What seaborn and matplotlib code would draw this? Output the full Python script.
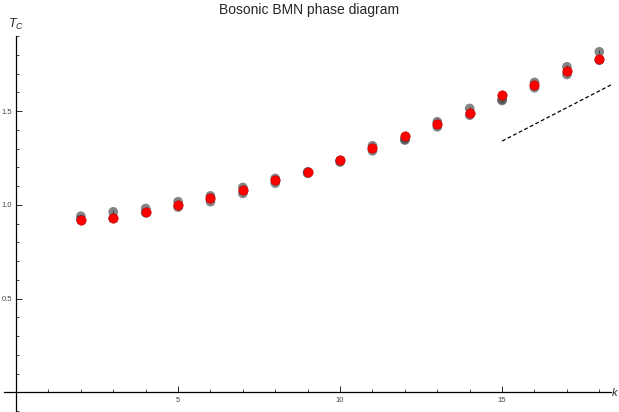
import numpy as np
import pandas as pd
import seaborn as sns
import matplotlib.pyplot as plt
from matplotlib.ticker import MultipleLocator, FixedLocator

k = [2, 3, 4, 5, 6, 7, 8, 9, 10, 11, 12, 13, 14, 15, 16, 17, 18]
gray_upper = [0.940, 0.963, 0.981, 1.017, 1.048, 1.093, 1.141, 1.176, 1.236, 1.315, 1.350,
              1.443, 1.514, 1.562, 1.653, 1.736, 1.816]
gray_lower = [0.922, 0.930, 0.958, 0.988, 1.017, 1.061, 1.116, 1.168, 1.228, 1.288, 1.345,
              1.416, 1.478, 1.556, 1.624, 1.695, 1.771]
red = [0.919, 0.930, 0.960, 0.999, 1.038, 1.079, 1.130, 1.176, 1.239, 1.301, 1.368,
       1.429, 1.487, 1.585, 1.638, 1.713, 1.780]
err = [0.008] * len(k)
dash_k = [15.0, 18.4]
dash_t = [1.340, 1.643]

sns.set_style('white')
plt.rcParams['font.family'] = ['Liberation Sans', 'DejaVu Sans']
plt.rcParams['mathtext.fontset'] = 'custom'
plt.rcParams['mathtext.it'] = 'Liberation Sans:italic'
plt.rcParams['mathtext.rm'] = 'Liberation Sans'

fig = plt.figure(figsize=(6.19, 4.12), dpi=100)
ax = fig.add_axes([0.0065, 0.0, 0.98, 0.9126])

df = pd.DataFrame({'k': k, 'up': gray_upper, 'lo': gray_lower, 'red': red})
for col in ['up', 'lo']:
    ax.errorbar(df['k'], df[col], yerr=err, fmt='none', ecolor='black', elinewidth=0.6, zorder=2)
    sns.scatterplot(data=df, x='k', y=col, ax=ax, color='#444444', alpha=0.65, s=48,
                    edgecolor='none', zorder=3)
sns.scatterplot(data=df, x='k', y='red', ax=ax, color='#ff0000', s=46, edgecolor='#b00000',
                linewidth=0.4, zorder=4)
sns.lineplot(x=dash_k, y=dash_t, ax=ax, color='black', linestyle=(0, (3, 2)), linewidth=0.9)

ax.set_xlim(-0.37, 18.35)
ax.set_ylim(-0.104, 1.90)
for s in ['top', 'right']:
    ax.spines[s].set_visible(False)
ax.spines['left'].set_position(('data', 0))
ax.spines['bottom'].set_position(('data', 0))
for s in ['left', 'bottom']:
    ax.spines[s].set_linewidth(0.9)
    ax.spines[s].set_color('black')

ax.xaxis.set_major_locator(FixedLocator([5, 10, 15]))
ax.xaxis.set_minor_locator(MultipleLocator(1))
ax.yaxis.set_major_locator(FixedLocator([0.5, 1.0, 1.5]))
ax.yaxis.set_minor_locator(MultipleLocator(0.1))
ax.set_xticklabels(['5', '10', '15'])
ax.set_yticklabels(['0.5', '1.0', '1.5'])
ax.tick_params(which='major', direction='in', length=4, width=0.7, labelsize=5.5,
               labelcolor='#444444', pad=3)
ax.tick_params(which='minor', direction='in', length=2.5, width=0.6)
ax.tick_params(axis='x', which='both', bottom=True)
ax.tick_params(axis='y', which='both', left=True)
ax.set_xlabel('')
ax.set_ylabel('')
ax.patch.set_alpha(0)

ax.text(0, 1.92, r'$T_C$', ha='center', va='bottom', fontsize=9)
ax.text(18.37, 0, r'$k$', ha='left', va='center', fontsize=8, clip_on=False)
fig.text(0.5, 0.975, 'Bosonic BMN phase diagram', ha='center', va='center', fontsize=10)

fig.savefig('out.png', dpi=100)
